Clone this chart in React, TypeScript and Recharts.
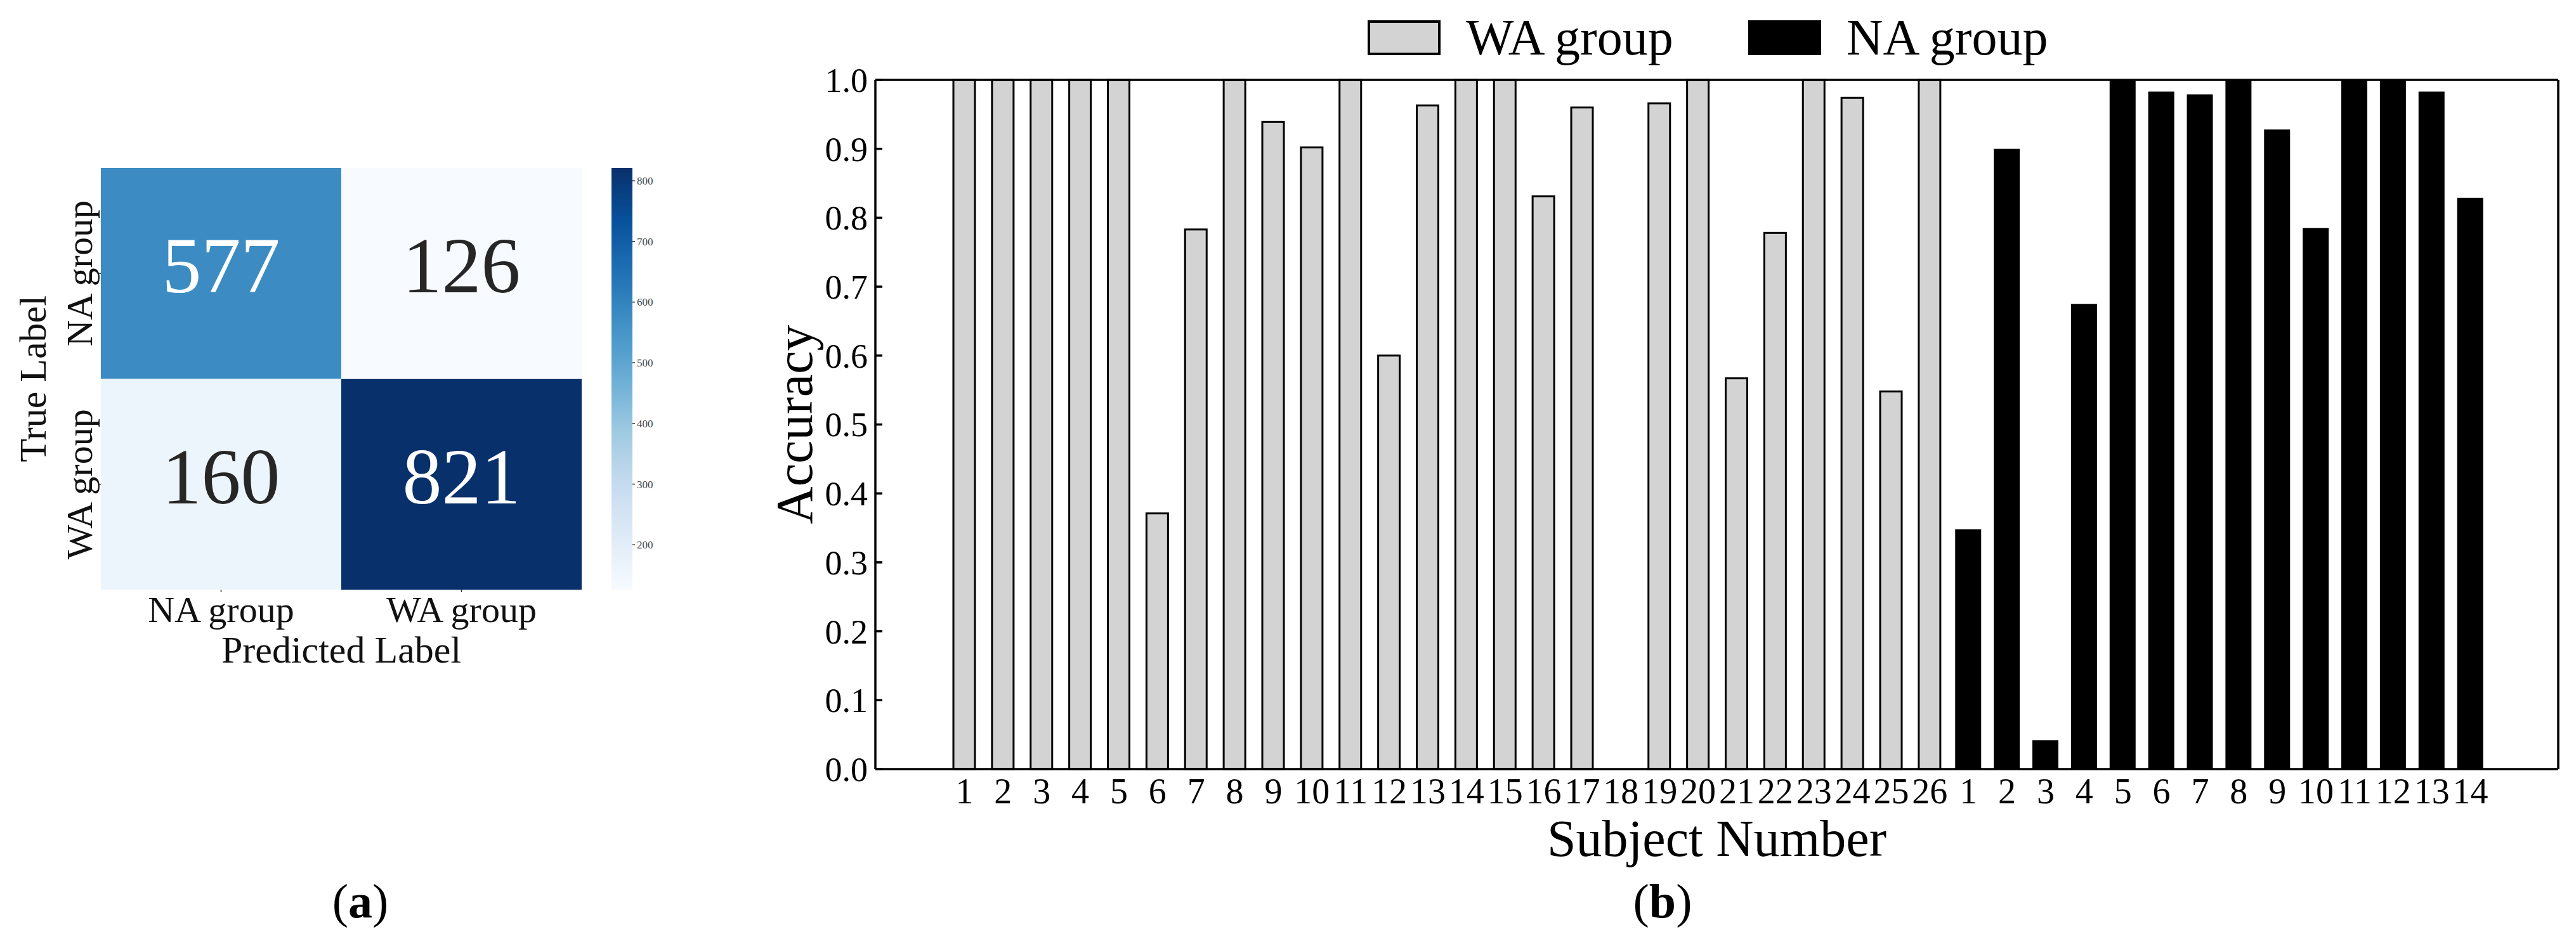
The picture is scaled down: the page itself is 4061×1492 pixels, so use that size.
import React from "react";
import { Bar, BarChart, Cell, LabelList, Legend, XAxis, YAxis } from "recharts";

const FONT = '"Liberation Serif", "Times New Roman", serif';

// (a) confusion matrix
const trueLabels = ["NA group", "WA group"];
const predLabels = ["NA group", "WA group"];
const confusion = [
  [577, 126],
  [160, 821],
];
const colorbarTicks = [200, 300, 400, 500, 600, 700, 800];

// (b) accuracy per subject
const waSubjects = [
  "1", "2", "3", "4", "5", "6", "7", "8", "9", "10", "11", "12", "13",
  "14", "15", "16", "17", "18", "19", "20", "21", "22", "23", "24", "25", "26",
];
const waAccuracy = [
  1.0, 1.0, 1.0, 1.0, 1.0, 0.371, 0.783, 1.0, 0.939, 0.902, 1.0, 0.6, 0.963,
  1.0, 1.0, 0.831, 0.96, 0.0, 0.966, 1.0, 0.567, 0.778, 1.0, 0.974, 0.548, 1.0,
];
const naSubjects = ["1", "2", "3", "4", "5", "6", "7", "8", "9", "10", "11", "12", "13", "14"];
const naAccuracy = [
  0.348, 0.9, 0.042, 0.675, 1.0, 0.983, 0.979, 1.0, 0.928, 0.785, 1.0, 1.0, 0.983, 0.829,
];
const accuracyTicks = [0, 0.1, 0.2, 0.3, 0.4, 0.5, 0.6, 0.7, 0.8, 0.9, 1.0];

// matplotlib "Blues"
const BLUES = [
  "#f7fbff", "#deebf7", "#c6dbef", "#9ecae1", "#6baed6",
  "#4292c6", "#2171b5", "#08519c", "#08306b",
];

const hexToRgb = (h: string) => [1, 3, 5].map((i) => parseInt(h.slice(i, i + 2), 16));

const blues = (t: number) => {
  const v = Math.min(1, Math.max(0, t)) * (BLUES.length - 1);
  const i = Math.min(BLUES.length - 2, Math.floor(v));
  const f = v - i;
  const a = hexToRgb(BLUES[i]);
  const b = hexToRgb(BLUES[i + 1]);
  const c = a.map((x, k) => Math.round(x + (b[k] - x) * f));
  return `rgb(${c[0]},${c[1]},${c[2]})`;
};

const allCounts = confusion.flat();
const vMin = Math.min(...allCounts);
const vMax = Math.max(...allCounts);
const norm = (v: number) => (v - vMin) / (vMax - vMin);

// one column per predicted label, stacked: bottom = true WA, top = true NA
const heatRows = predLabels.map((p, j) => ({
  pred: p,
  waCell: 1,
  naCell: 1,
  waCount: confusion[1][j],
  naCount: confusion[0][j],
}));

const subjectRows = [
  ...waSubjects.map((s, i) => ({ key: `WA-${s}`, label: s, wa: waAccuracy[i] })),
  ...naSubjects.map((s, i) => ({ key: `NA-${s}`, label: s, na: naAccuracy[i] })),
];
const labelByKey: Record<string, string> = {};
subjectRows.forEach((r) => (labelByKey[r.key] = r.label));

const series = [
  { name: "WA group", fill: "#d3d3d3", border: "4px solid #000" },
  { name: "NA group", fill: "#000", border: "4px solid #000" },
];

const CountLabel = (props: any) => {
  const vb = props.viewBox || props;
  const { x, y, width, height } = vb;
  const v = props.value as number;
  return (
    <text
      x={x + width / 2}
      y={y + height / 2 + 30}
      textAnchor="middle"
      fontSize={124}
      fontFamily={FONT}
      fill={norm(v) > 0.5 ? "#ffffff" : "#262626"}
    >
      {v}
    </text>
  );
};

const HeatXTick = ({ x, y, payload }: any) => (
  <text x={x} y={y} dy="0.71em" textAnchor="middle" fontSize={58} fontFamily={FONT} fill="#111">
    {payload.value}
  </text>
);

const HeatYTick = ({ x, y, payload }: any) => (
  <text
    x={x}
    y={y}
    dy="0.33em"
    textAnchor="middle"
    fontSize={58}
    fontFamily={FONT}
    fill="#111"
    transform={`rotate(-90, ${x}, ${y})`}
  >
    {payload.value > 1 ? trueLabels[0] : trueLabels[1]}
  </text>
);

const SubjectTick = ({ x, y, payload }: any) => (
  <text x={x} y={y} dy="0.71em" textAnchor="middle" fontSize={56} fontFamily={FONT} fill="#000">
    {labelByKey[payload.value]}
  </text>
);

const AccuracyTick = ({ x, y, payload }: any) => (
  <g>
    <line x1={x + 12} x2={x + 23} y1={y} y2={y} stroke="#000" strokeWidth={3.5} />
    <text x={x} y={y} dy="0.35em" textAnchor="end" fontSize={54} fontFamily={FONT} fill="#000">
      {Number(payload.value).toFixed(1)}
    </text>
  </g>
);

const WaShape = (props: any) => {
  const { x, y, width, height, payload } = props;
  if (payload == null || payload.wa === undefined) return <g />;
  return (
    <rect x={x} y={y} width={width} height={Math.max(0, height)} fill="#d3d3d3" stroke="#000" strokeWidth={3} />
  );
};

const NaShape = (props: any) => {
  const { x, y, width, height, payload } = props;
  if (payload == null || payload.na === undefined) return <g />;
  return <rect x={x - 3.5} y={y} width={width + 7} height={Math.max(0, height)} fill="#000" />;
};

const renderLegend = () => (
  <div style={{ display: "flex", alignItems: "center", height: 55, fontFamily: FONT }}>
    {series.map((s, i) => (
      <div key={s.name} style={{ display: "flex", alignItems: "center", marginRight: i === 0 ? 118 : 0 }}>
        <div
          style={{
            width: 115,
            height: 55,
            boxSizing: "border-box",
            background: s.fill,
            border: s.border,
          }}
        />
        <span style={{ marginLeft: 40, fontSize: 80, lineHeight: "55px", whiteSpace: "nowrap", color: "#000" }}>
          {s.name}
        </span>
      </div>
    ))}
  </div>
);

const caption = (letter: string, center: number) => (
  <div
    style={{
      position: "absolute",
      left: center - 100,
      width: 200,
      top: 1383,
      textAlign: "center",
      fontFamily: FONT,
      fontSize: 76,
      lineHeight: "76px",
      color: "#000",
    }}
  >
    (<b>{letter}</b>)
  </div>
);

export default function App() {
  return (
    <div
      style={{
        position: "absolute",
        left: 0,
        top: 0,
        width: 4061,
        height: 1492,
        background: "#fff",
        overflow: "hidden",
        fontFamily: FONT,
      }}
    >
      {/* (a) confusion matrix */}
      <div style={{ position: "absolute", left: 0, top: 0 }}>
        <BarChart
          width={960}
          height={1100}
          data={heatRows}
          margin={{ top: 265, right: 43, bottom: 40, left: 19 }}
          barCategoryGap={0}
          barGap={0}
        >
          <XAxis
            dataKey="pred"
            height={130}
            tick={<HeatXTick />}
            tickSize={4}
            tickMargin={6}
            tickLine={{ stroke: "#333", strokeWidth: 1.5 }}
            axisLine={false}
            label={{
              value: "Predicted Label",
              position: "insideBottom",
              offset: 15,
              fontSize: 60,
              fontFamily: FONT,
              fill: "#111",
            }}
          />
          <YAxis
            type="number"
            domain={[0, 2]}
            ticks={[0.5, 1.5]}
            width={140}
            tick={<HeatYTick />}
            tickSize={4}
            tickMargin={29}
            tickLine={{ stroke: "#333", strokeWidth: 1.5 }}
            axisLine={false}
            label={{
              value: "True Label",
              angle: -90,
              position: "insideLeft",
              offset: 32,
              fontSize: 60,
              fontFamily: FONT,
              fill: "#111",
              style: { textAnchor: "middle" },
            }}
          />
          <Bar dataKey="waCell" stackId="cm" isAnimationActive={false}>
            {heatRows.map((r, i) => (
              <Cell key={`wa-${i}`} fill={blues(norm(r.waCount))} />
            ))}
            <LabelList dataKey="waCount" content={CountLabel} />
          </Bar>
          <Bar dataKey="naCell" stackId="cm" isAnimationActive={false}>
            {heatRows.map((r, i) => (
              <Cell key={`na-${i}`} fill={blues(norm(r.naCount))} />
            ))}
            <LabelList dataKey="naCount" content={CountLabel} />
          </Bar>
        </BarChart>
      </div>

      {/* colour bar */}
      <div style={{ position: "absolute", left: 940, top: 0 }}>
        <BarChart
          width={140}
          height={1000}
          data={[{ name: "scale", span: [vMin, vMax] }]}
          margin={{ top: 265, right: 0, bottom: 70, left: 24 }}
          barCategoryGap={0}
        >
          <defs>
            <linearGradient id="bluesScale" x1="0" y1="1" x2="0" y2="0">
              {BLUES.map((c, i) => (
                <stop key={c} offset={i / (BLUES.length - 1)} stopColor={c} />
              ))}
            </linearGradient>
          </defs>
          <XAxis dataKey="name" hide />
          <YAxis
            orientation="right"
            type="number"
            domain={[vMin, vMax]}
            ticks={colorbarTicks}
            width={83}
            axisLine={false}
            tickSize={4}
            tickMargin={3}
            tickLine={{ stroke: "#333", strokeWidth: 1.5 }}
            tick={{ fontSize: 17, fill: "#444", fontFamily: FONT }}
            allowDataOverflow
          />
          <Bar dataKey="span" fill="url(#bluesScale)" isAnimationActive={false} />
        </BarChart>
      </div>

      {/* (b) accuracy bars */}
      <div style={{ position: "absolute", left: 1100, top: 0 }}>
        <BarChart
          width={2961}
          height={1492}
          data={subjectRows}
          margin={{ top: 125, right: 27, bottom: 139, left: 80 }}
          barSize={34}
        >
          <XAxis
            dataKey="key"
            interval={0}
            height={140}
            padding={{ left: 110, right: 108 }}
            tick={<SubjectTick />}
            tickLine={false}
            tickSize={0}
            tickMargin={14}
            axisLine={{ stroke: "#000", strokeWidth: 3.5 }}
            label={{
              value: "Subject Number",
              position: "insideBottom",
              offset: 3,
              fontSize: 82,
              fontFamily: FONT,
              fill: "#000",
            }}
          />
          {/* top spine */}
          <XAxis
            xAxisId="top"
            orientation="top"
            dataKey="key"
            height={1}
            padding={{ left: 110, right: 108 }}
            tick={false}
            tickLine={false}
            axisLine={{ stroke: "#000", strokeWidth: 3.5 }}
          />
          <YAxis
            type="number"
            domain={[0, 1]}
            ticks={accuracyTicks}
            width={200}
            tick={<AccuracyTick />}
            tickLine={false}
            tickSize={0}
            tickMargin={12}
            axisLine={{ stroke: "#000", strokeWidth: 3.5 }}
            label={{
              value: "Accuracy",
              angle: -90,
              position: "insideLeft",
              offset: 71,
              fontSize: 82,
              fontFamily: FONT,
              fill: "#000",
              style: { textAnchor: "middle" },
            }}
          />
          {/* right spine */}
          <YAxis
            yAxisId="right"
            orientation="right"
            type="number"
            domain={[0, 1]}
            width={1}
            tick={false}
            tickLine={false}
            axisLine={{ stroke: "#000", strokeWidth: 3.5 }}
          />
          <Legend
            verticalAlign="middle"
            layout="horizontal"
            align="center"
            wrapperStyle={{ top: 32, left: 1056, width: "auto" }}
            content={renderLegend}
          />
          <Bar dataKey="wa" name="WA group" stackId="acc" fill="#d3d3d3" shape={WaShape} isAnimationActive={false} />
          <Bar dataKey="na" name="NA group" stackId="acc" fill="#000" shape={NaShape} isAnimationActive={false} />
        </BarChart>
      </div>

      {caption("a", 568)}
      {caption("b", 2621)}
    </div>
  );
}
